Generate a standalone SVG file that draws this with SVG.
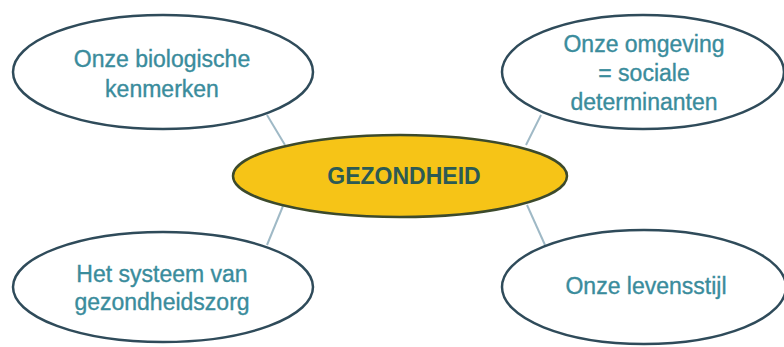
<svg xmlns="http://www.w3.org/2000/svg" width="784" height="347" viewBox="0 0 784 347">
<style>
.n{fill:#ffffff;stroke:#2f4b5a;stroke-width:2.5}
.c{fill:#f6c417;stroke:#3c4a2c;stroke-width:2.5}
.t{font-family:"Liberation Sans",Arial,sans-serif;font-size:23px;fill:#3a8c9c;stroke:#3a8c9c;stroke-width:0.35;text-anchor:middle}
.tc{font-family:"Liberation Sans",Arial,sans-serif;font-size:23px;font-weight:bold;fill:#2c5a54;text-anchor:middle}
.l{stroke:#9fb9c6;stroke-width:2;fill:none}
</style>
<rect width="784" height="347" fill="#ffffff"/>
<g id="connectors">
<line class="l" x1="267" y1="115" x2="285" y2="145"/>
<line class="l" x1="541" y1="115" x2="526" y2="145"/>
<line class="l" x1="283" y1="206" x2="267" y2="245"/>
<line class="l" x1="527" y1="205" x2="545" y2="245"/>
</g>
<g id="biologisch">
<ellipse class="n" cx="163" cy="72" rx="150" ry="57"/>
<text class="t" x="162" y="67">Onze biologische</text>
<text class="t" x="162" y="97">kenmerken</text>
</g>
<g id="omgeving">
<ellipse class="n" cx="643" cy="72" rx="141" ry="57"/>
<text class="t" x="644" y="52">Onze omgeving</text>
<text class="t" x="644" y="81">= sociale</text>
<text class="t" x="644" y="110">determinanten</text>
</g>
<g id="gezondheid">
<ellipse class="c" cx="400" cy="176" rx="167" ry="41"/>
<text class="tc" x="404" y="184">GEZONDHEID</text>
</g>
<g id="zorg">
<ellipse class="n" cx="163" cy="287" rx="150" ry="55"/>
<text class="t" x="162" y="282">Het systeem van</text>
<text class="t" x="162" y="310">gezondheidszorg</text>
</g>
<g id="levensstijl">
<ellipse class="n" cx="644" cy="287" rx="142" ry="57"/>
<text class="t" x="646" y="294">Onze levensstijl</text>
</g>
</svg>
